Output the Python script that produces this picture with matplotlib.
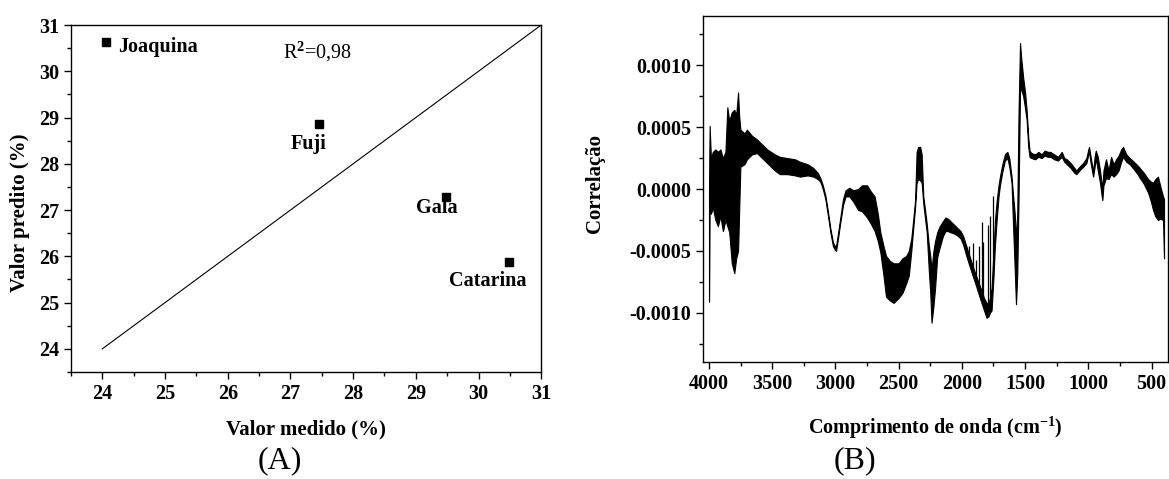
import numpy as np
import matplotlib
matplotlib.use('Agg')
import matplotlib.pyplot as plt
from matplotlib.ticker import MultipleLocator

plt.rcParams['font.family'] = ['Liberation Serif', 'DejaVu Serif']
plt.rcParams['font.weight'] = 'bold'
plt.rcParams['mathtext.fontset'] = 'custom'
plt.rcParams['mathtext.rm'] = 'Liberation Serif'
plt.rcParams['mathtext.bf'] = 'Liberation Serif:bold'
plt.rcParams['mathtext.it'] = 'Liberation Serif:italic'

# (A) measured vs predicted
cultivars = ['Joaquina', 'Fuji', 'Gala', 'Catarina']
measured = [24.06, 27.45, 29.48, 30.49]
predicted = [30.63, 28.85, 27.28, 25.88]
label_xy = [(24.25, 30.53), (27.29, 28.43), (29.34, 27.05), (30.14, 25.47)]
label_ha = ['left', 'center', 'center', 'center']
ideal = [24, 31]

# (B) correlation spectrum, read as upper/lower envelope of the noisy trace (x1e-4)
wavenumber = [
    4000, 3995, 3985, 3970, 3950, 3930, 3910, 3890, 3870, 3855, 3840, 3820, 3800,
    3785, 3770, 3762, 3752, 3720, 3700, 3660, 3620, 3580, 3540, 3480, 3440, 3380,
    3320, 3280, 3220, 3175, 3140, 3120, 3100, 3080, 3060, 3040, 3020, 3005, 2995,
    2980, 2960, 2940, 2920, 2890, 2860, 2820, 2790, 2750, 2720, 2690, 2665, 2645,
    2620, 2600, 2570, 2540, 2500, 2470, 2440, 2420, 2400, 2385, 2370, 2358, 2345,
    2330, 2318, 2305, 2290, 2278, 2262, 2250, 2240, 2225, 2212, 2195, 2175, 2150,
    2130, 2110, 2090, 2060, 2030, 2010, 1990, 1965, 1940, 1915, 1895, 1870, 1845,
    1825, 1805, 1790, 1778, 1765, 1752, 1738, 1725, 1710, 1699, 1680, 1660, 1640,
    1625, 1607, 1595, 1582, 1572, 1562, 1552, 1540, 1530, 1515, 1500, 1488, 1475,
    1465, 1450, 1420, 1395, 1370, 1345, 1320, 1300, 1270, 1240, 1210, 1190, 1170,
    1140, 1110, 1095, 1070, 1041, 1015, 1000, 994, 980, 962, 950, 941, 925, 909,
    895, 889, 880, 860, 840, 820, 800, 780, 760, 740, 725, 700, 672, 640, 610, 593,
    560, 527, 505, 488, 470, 449, 430, 409, 401,
]
corr_hi = [
    0.0, 5.1, 2.5, 3.0, 3.2, 3.0, 3.2, 2.5, 3.0, 6.6, 5.5, 6.2, 6.4,
    6.0, 7.8, 6.0, 4.8, 4.5, 4.8, 4.3, 4.0, 3.6, 3.2, 2.8, 2.6, 2.5,
    2.4, 2.2, 2.0, 1.7, 1.3, 0.9, 0.3, -0.5, -1.8, -3.2, -4.3, -4.6, -4.6,
    -3.6, -2.2, -0.8, -0.1, 0.1, -0.1, 0.0, 0.3, 0.3, -0.2, -0.6, -2.0, -3.5,
    -4.6, -5.4, -5.8, -6.0, -6.0, -5.6, -5.4, -5.0, -4.0, -2.5, -0.9, 3.0, 3.4,
    3.4, 2.8, -0.6, -1.8, -2.8, -4.5, -5.4, -6.5, -5.0, -4.2, -3.5, -3.0, -2.6,
    -2.3, -2.4, -2.6, -2.9, -3.2, -3.4, -3.8, -4.6, -5.4, -6.2, -6.8, -7.5, -8.2,
    -8.8, -9.2, -9.2, -8.8, -8.0, -5.5, -2.5, -1.0, 0.3, 1.0, 2.0, 2.8, 3.0,
    2.5, 1.0, -0.5, -2.0, -4.0, -2.0, 6.0, 11.8, 10.5, 9.0, 7.8, 6.4, 4.2,
    3.1, 2.9, 2.8, 3.0, 2.8, 3.1, 3.0, 3.0, 2.8, 2.6, 3.0, 2.5, 2.4,
    2.1, 1.7, 1.5, 1.8, 2.1, 2.5, 3.2, 3.4, 2.5, 1.4, 2.6, 3.1, 2.6, 1.6,
    0.5, 0.0, 1.5, 2.4, 1.5, 2.6, 2.0, 2.4, 2.7, 3.2, 3.4, 2.8, 2.5, 2.2, 1.9, 1.7,
    1.3, 0.8, 0.6, 0.5, 0.8, 1.0, 0.2, -0.6, -0.8,
]
corr_lo = [
    -9.1, -1.0, -2.0, -1.5, -2.5, -3.0, -2.2, -3.4, -2.5, -3.0, -3.5, -6.0, -6.8,
    -5.6, -5.0, -2.0, 1.8, 2.0, 2.4, 2.8, 2.9, 2.5, 2.1, 1.5, 1.2, 1.2,
    1.1, 1.0, 1.1, 1.0, 0.8, 0.6, 0.0, -0.8, -2.1, -3.5, -4.6, -4.9, -5.0,
    -4.0, -2.6, -1.3, -0.6, -0.6, -1.0, -1.7, -1.8, -2.3, -2.8, -3.4, -4.2, -5.1,
    -7.0, -8.7, -9.0, -9.2, -8.8, -8.4, -7.6, -7.0, -5.0, -3.2, -1.5, 0.5, 0.8,
    0.7, 0.5, -1.2, -2.5, -3.5, -6.5, -8.4, -10.8, -9.5, -8.0, -5.5, -4.7, -3.8,
    -3.4, -3.4, -3.5, -3.6, -3.8, -4.0, -4.5, -5.4, -6.2, -7.0, -7.6, -8.4, -9.2,
    -9.8, -10.4, -10.3, -10.0, -9.8, -7.5, -4.5, -2.5, -0.6, 0.3, 1.4, 2.3, 2.5,
    1.8, 0.5, -3.0, -6.5, -9.3, -7.0, -1.0, 8.0, 8.0, 7.5, 6.5, 5.6, 3.4,
    2.6, 2.5, 2.4, 2.6, 2.5, 2.7, 2.6, 2.6, 2.4, 2.3, 2.6, 2.2, 2.0,
    1.7, 1.3, 1.2, 1.5, 1.8, 2.1, 2.8, 3.0, 2.0, 1.0, 1.8, 2.5, 1.5, 0.6,
    -0.5, -0.9, 0.3, 0.9, 0.8, 1.2, 1.0, 1.2, 1.5, 2.2, 2.6, 2.2, 2.0, 1.6, 1.2, 0.9,
    0.4, -0.3, -1.0, -1.7, -2.2, -2.5, -2.4, -2.5, -5.6,
]
# thin spikes rising out of the 1950-1730 descent (x1e-4)
spike_wn = [1941, 1915, 1889, 1862, 1843, 1831, 1796, 1778, 1752]
spike_base = [-5.6, -6.4, -7.2, -8.0, -8.6, -9.2, -9.6, -9.4, -7.0]
spike_tip = [-4.6, -4.4, -5.7, -4.6, -2.7, -4.3, -2.9, -2.2, -0.6]

fig = plt.figure(figsize=(11.69, 4.79), dpi=100)

# ---- (A) ----
ax1 = fig.add_axes([0.0607, 0.2234, 0.4023, 0.7244])
ax1.plot(ideal, ideal, color='black', lw=0.8)
ax1.plot(measured, predicted, 's', color='black', ms=5.5)
for name, (tx, ty), ha in zip(cultivars, label_xy, label_ha):
    ax1.text(tx, ty, name, ha=ha, va='center', fontsize=14.5, fontweight='bold')
ax1.text(26.88, 30.42, 'R$^2$=0,98', ha='left', va='center', fontsize=14.5,
         fontweight='normal')
ax1.set_xlim(23.5, 31)
ax1.set_ylim(23.5, 31)
ax1.xaxis.set_major_locator(MultipleLocator(1))
ax1.xaxis.set_minor_locator(MultipleLocator(0.5))
ax1.yaxis.set_major_locator(MultipleLocator(1))
ax1.yaxis.set_minor_locator(MultipleLocator(0.5))
ax1.set_xlabel('Valor medido (%)', fontsize=15, fontweight='bold')
ax1.set_ylabel('Valor predito (%)', fontsize=15, fontweight='bold')
ax1.xaxis.set_label_coords(0.5, -0.138)
ax1.yaxis.set_label_coords(-0.087, 0.46)

# ---- (B) ----
ax2 = fig.add_axes([0.6011, 0.2436, 0.398, 0.7236])
wn = np.array(wavenumber)
ax2.fill_between(wn, np.array(corr_lo) * 1e-4, np.array(corr_hi) * 1e-4,
                 color='black', lw=0.8, edgecolor='black')
ax2.vlines(spike_wn, np.array(spike_base) * 1e-4, np.array(spike_tip) * 1e-4,
           color='black', lw=0.9)
ax2.set_xlim(4050, 370)
ax2.set_ylim(-0.0014, 0.0014)
ax2.xaxis.set_major_locator(MultipleLocator(500))
ax2.xaxis.set_minor_locator(MultipleLocator(250))
ax2.yaxis.set_major_locator(MultipleLocator(0.0005))
ax2.yaxis.set_minor_locator(MultipleLocator(0.00025))
ax2.yaxis.set_major_formatter(plt.FuncFormatter(lambda v, p: f'{v:.4f}'))
ax2.set_xlabel('Comprimento de onda (cm$^{\\mathbf{-1}}$)', fontsize=14.5, fontweight='bold')
ax2.set_ylabel('Correlação', fontsize=15, fontweight='bold')
ax2.xaxis.set_label_coords(0.5, -0.15)
ax2.yaxis.set_label_coords(-0.21, 0.517)

for ax in (ax1, ax2):
    ax.tick_params(which='major', direction='out', length=5, width=1, labelsize=14.5)
    ax.tick_params(which='minor', direction='out', length=3, width=1)
    for sp in ax.spines.values():
        sp.set_linewidth(1.0)
    for lab in ax.get_xticklabels() + ax.get_yticklabels():
        lab.set_fontweight('bold')

fig.text(280 / 1169, 1 - 461 / 479, '(A)', ha='center', va='center', fontsize=23,
         fontweight='normal')
fig.text(855 / 1169, 1 - 461 / 479, '(B)', ha='center', va='center', fontsize=23,
         fontweight='normal')

fig.savefig('out.png', dpi=100)
